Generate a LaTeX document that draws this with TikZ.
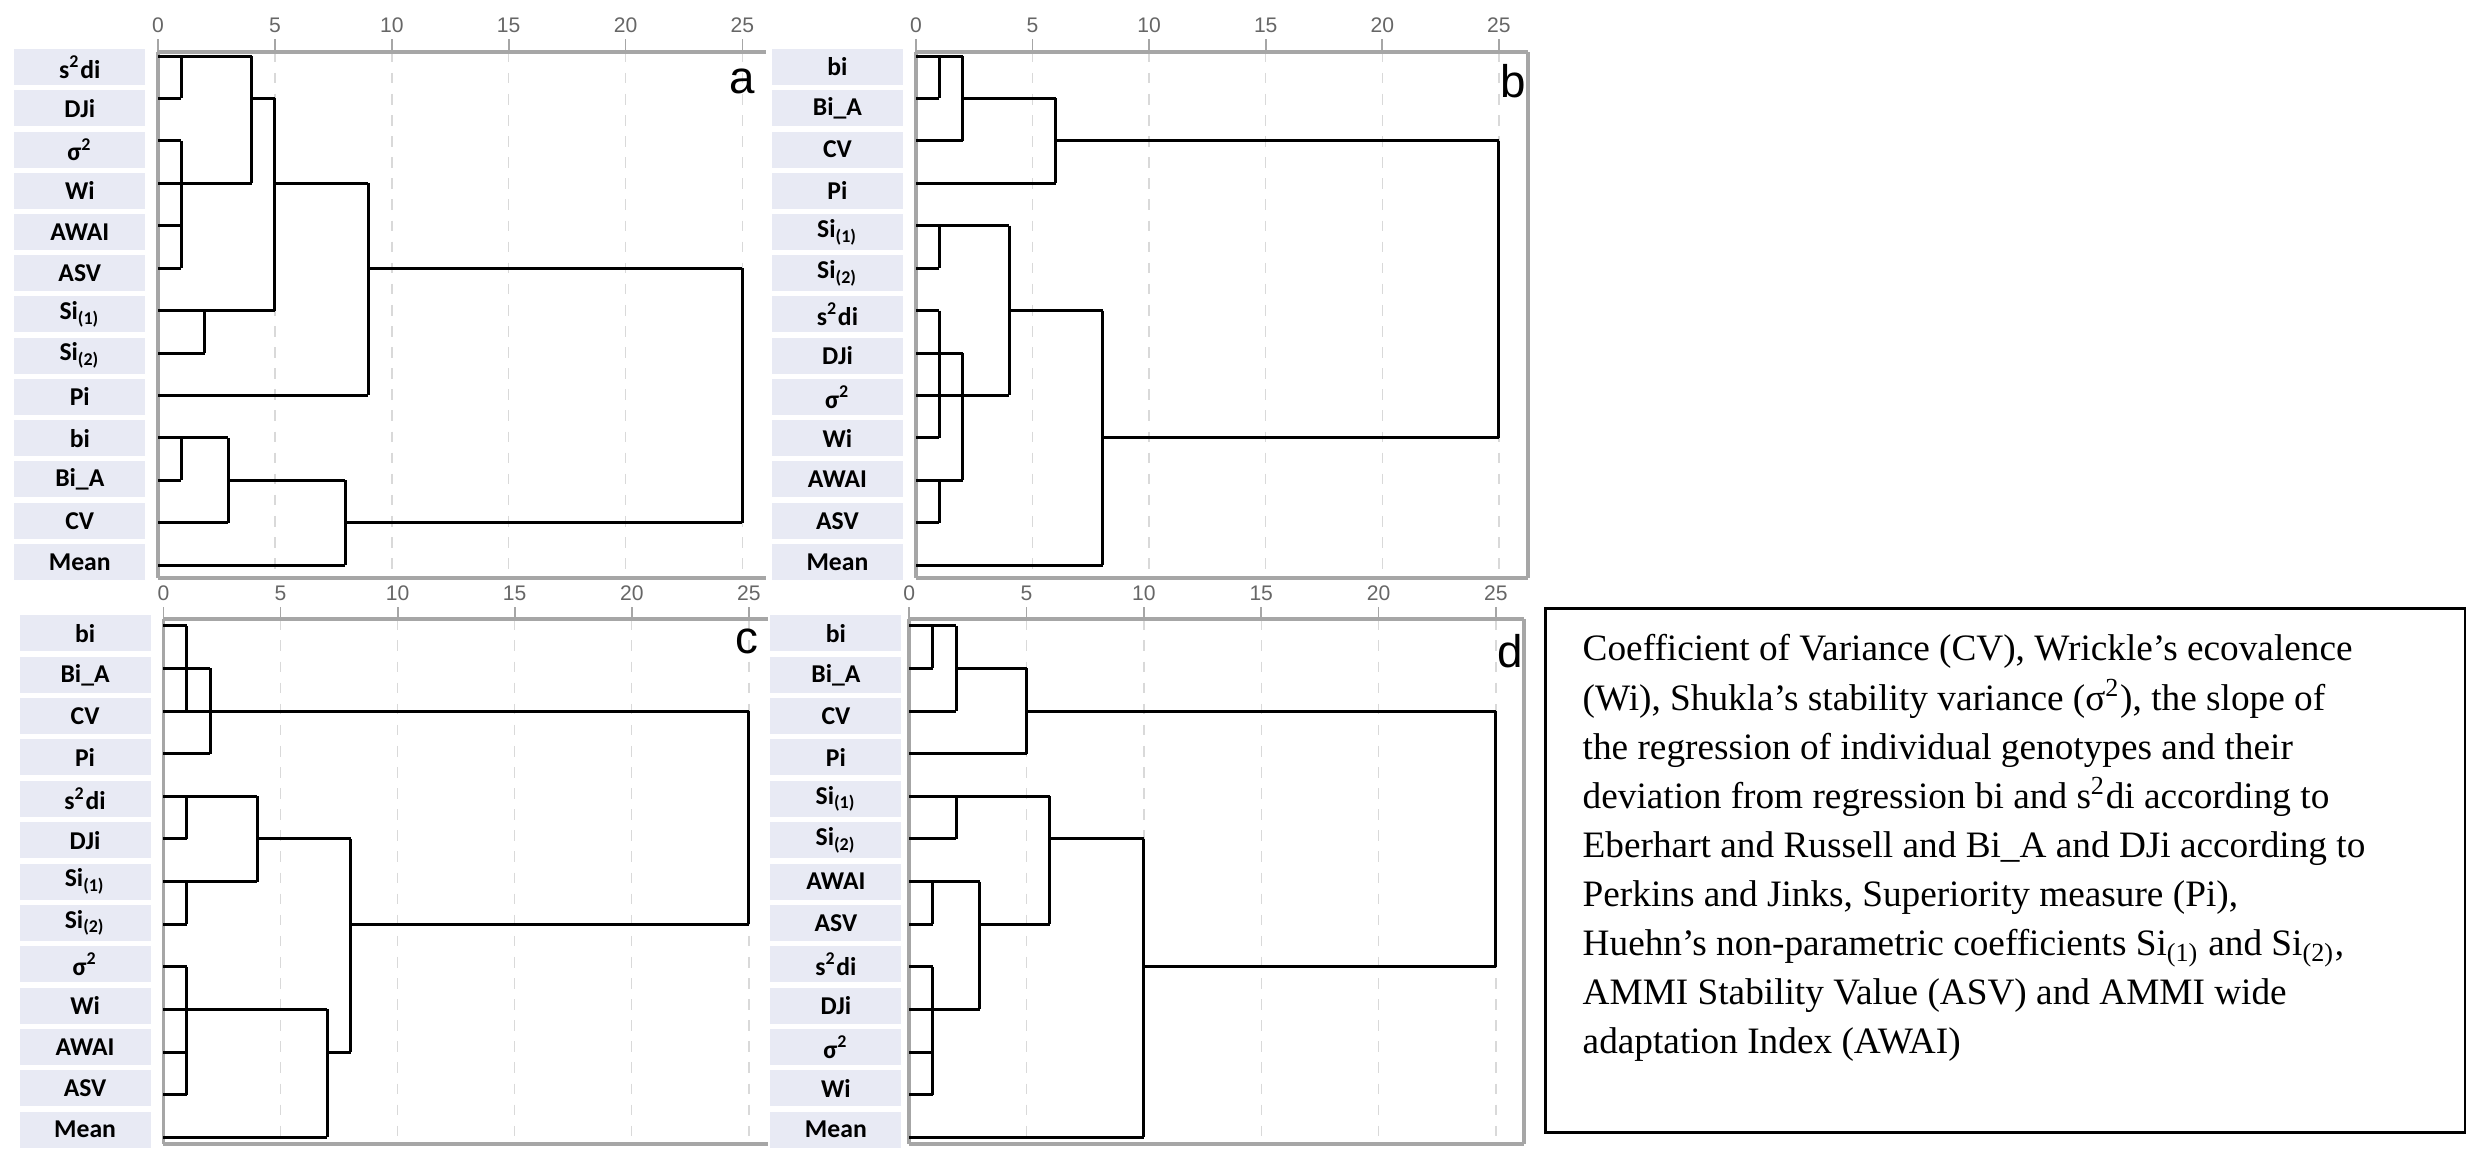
\documentclass[tikz,border=0pt]{standalone}
\usepackage{fontspec}
\setmainfont{Liberation Serif}
\newfontfamily\serifx{Liberation Serif}
\newfontfamily\labfont{Carlito}
\newfontfamily\axfont{Liberation Sans}
\begin{document}
\begin{tikzpicture}[x=0.01cm,y=-0.01cm,
  lab/.style={fill=labbg,minimum width=1.31cm,minimum height=0.36cm,inner sep=0pt,font=\labfont\bfseries\fontsize{7.3}{8}\selectfont},
  den/.style={line width=0.85pt,black},
  ax/.style={line width=1.1pt,gray!70},
  grd/.style={gray!30,dashed,line width=0.4pt},
  tick/.style={font=\axfont\fontsize{6}{7}\selectfont,text=gray!80!black},
  letter/.style={font=\axfont\fontsize{13}{14}\selectfont}]
\definecolor{labbg}{HTML}{E8EAF4}
\useasboundingbox (0,0) rectangle (2480,1163);

\newcommand\myaxes[3]{%
  \foreach \t in {5,10,15,20,25} \draw[grd] (\t,#1) -- (\t,#2);
  \draw[ax] (0,#1) -- (#3,#1);
  \draw[ax] (0,#2) -- (#3,#2);
  \draw[ax] (0,#1) -- (0,#2);
  \foreach \t in {0,5,10,15,20,25}{
    \draw[gray!70,line width=0.5pt] (\t,#1) -- (\t,#1-0.3);
    \node[tick] (tk\t) at (\t,#1-0.62) {\t};}
}

% ---------------- panel a
\begin{scope}[shift={(1.58cm,-0.56cm)},x={(0.2336cm,0)},y={(0,-0.424cm)}]
\myaxes{-0.1}{12.3}{26}
\foreach \n [count=\i from 0] in {s\textsuperscript{2}di,DJi,σ\textsuperscript{2},Wi,AWAI,ASV,Si\textsubscript{(1)},Si\textsubscript{(2)},Pi,bi,Bi\_A,CV,Mean}
  \node[lab] (la\i) at (-3.35,0.26+0.972*\i) {\n};
\node[letter] (pa) at (25.0,0.6) {a};
\draw[den] (0,0)--(4,0) (1,0)--(1,1) (0,1)--(1,1) (4,0)--(4,3) (0,3)--(4,3)
 (0,2)--(1,2) (1,2)--(1,5) (0,4)--(1,4) (0,5)--(1,5)
 (4,1)--(5,1) (5,1)--(5,6) (0,6)--(5,6) (2,6)--(2,7) (0,7)--(2,7)
 (5,3)--(9,3) (9,3)--(9,8) (0,8)--(9,8)
 (9,5)--(25,5) (25,5)--(25,11) (8,11)--(25,11)
 (0,9)--(3,9) (1,9)--(1,10) (0,10)--(1,10) (3,9)--(3,11) (0,11)--(3,11)
 (3,10)--(8,10) (8,10)--(8,12) (0,12)--(8,12);
\end{scope}

% ---------------- panel b
\begin{scope}[shift={(9.155cm,-0.56cm)},x={(0.233cm,0)},y={(0,-0.424cm)}]
\myaxes{-0.1}{12.3}{26.25}
\draw[ax] (26.25,-0.1) -- (26.25,12.3);
\foreach \n [count=\i from 0] in {bi,Bi\_A,CV,Pi,Si\textsubscript{(1)},Si\textsubscript{(2)},s\textsuperscript{2}di,DJi,σ\textsuperscript{2},Wi,AWAI,ASV,Mean}
  \node[lab] (lb\i) at (-3.37,0.26+0.972*\i) {\n};
\node[letter] (pb) at (25.6,0.6) {b};
\draw[den] (0,0)--(2,0) (1,0)--(1,1) (0,1)--(1,1) (2,0)--(2,2) (0,2)--(2,2)
 (2,1)--(6,1) (6,1)--(6,3) (0,3)--(6,3) (6,2)--(25,2) (25,2)--(25,9) (8,9)--(25,9)
 (0,4)--(4,4) (1,4)--(1,5) (0,5)--(1,5) (4,4)--(4,8)
 (0,6)--(1,6) (1,6)--(1,9) (0,7)--(2,7) (2,7)--(2,10) (0,8)--(4,8) (0,9)--(1,9)
 (0,10)--(2,10) (1,10)--(1,11) (0,11)--(1,11)
 (4,6)--(8,6) (8,6)--(8,12) (0,12)--(8,12);
\end{scope}

% ---------------- panel c
\begin{scope}[shift={(1.634cm,-6.254cm)},x={(0.234cm,0)},y={(0,-0.426cm)}]
\myaxes{-0.15}{12.15}{25.8}
\foreach \n [count=\i from 0] in {bi,Bi\_A,CV,Pi,s\textsuperscript{2}di,DJi,Si\textsubscript{(1)},Si\textsubscript{(2)},σ\textsuperscript{2},Wi,AWAI,ASV,Mean}
  \node[lab] (lc\i) at (-3.35,0.18+0.97*\i) {\n};
\node[letter] (pc) at (24.9,0.37) {c};
\draw[den] (0,0)--(1,0) (1,0)--(1,2) (0,1)--(2,1) (0,2)--(25,2) (2,1)--(2,3) (0,3)--(2,3)
 (0,4)--(4,4) (1,4)--(1,5) (0,5)--(1,5) (4,4)--(4,6) (0,6)--(4,6) (4,5)--(8,5)
 (1,6)--(1,7) (0,7)--(1,7) (8,5)--(8,10) (7,10)--(8,10) (25,2)--(25,7) (8,7)--(25,7)
 (0,8)--(1,8) (1,8)--(1,11) (0,9)--(7,9) (0,10)--(1,10) (0,11)--(1,11)
 (7,9)--(7,12) (0,12)--(7,12);
\end{scope}

% ---------------- panel d
\begin{scope}[shift={(9.086cm,-6.254cm)},x={(0.2346cm,0)},y={(0,-0.426cm)}]
\myaxes{-0.15}{12.15}{26.2}
\draw[ax] (26.2,-0.15) -- (26.2,12.15);
\foreach \n [count=\i from 0] in {bi,Bi\_A,CV,Pi,Si\textsubscript{(1)},Si\textsubscript{(2)},AWAI,ASV,s\textsuperscript{2}di,DJi,σ\textsuperscript{2},Wi,Mean}
  \node[lab] (ld\i) at (-3.12,0.18+0.97*\i) {\n};
\node[letter] (pd) at (25.6,0.6) {d};
\draw[den] (0,0)--(2,0) (1,0)--(1,1) (0,1)--(1,1) (2,0)--(2,2) (0,2)--(2,2)
 (2,1)--(5,1) (5,1)--(5,3) (0,3)--(5,3) (5,2)--(25,2) (25,2)--(25,8) (10,8)--(25,8)
 (0,4)--(6,4) (2,4)--(2,5) (0,5)--(2,5) (6,4)--(6,7)
 (0,6)--(3,6) (1,6)--(1,7) (0,7)--(1,7) (3,6)--(3,9) (3,7)--(6,7)
 (0,8)--(1,8) (1,8)--(1,11) (0,9)--(3,9) (0,10)--(1,10) (0,11)--(1,11)
 (6,5)--(10,5) (10,5)--(10,12) (0,12)--(10,12);
\end{scope}

% ---------------- legend box
\node[draw=black,line width=0.8pt,minimum width=9.19cm,minimum height=5.24cm,anchor=north west] (box) at (1544,607) {};
\node[anchor=north west,inner sep=0pt,align=left,font=\serifx\fontsize{10.6}{13.95}\selectfont] (txt) at (1582,634) {%
Coefficient of Variance (CV), Wrickle’s ecovalence\\
(Wi), Shukla’s stability variance (σ\textsuperscript{2}), the slope of\\
the regression of individual genotypes and their\\
deviation from regression bi and s\textsuperscript{2}di according to\\
Eberhart and Russell and Bi\_A and DJi according to\\
Perkins and Jinks, Superiority measure (Pi),\\
Huehn’s non-parametric coefficients Si\textsubscript{(1)} and Si\textsubscript{(2)},\\
AMMI Stability Value (ASV) and AMMI wide\\
adaptation Index (AWAI)};
\end{tikzpicture}
\end{document}
